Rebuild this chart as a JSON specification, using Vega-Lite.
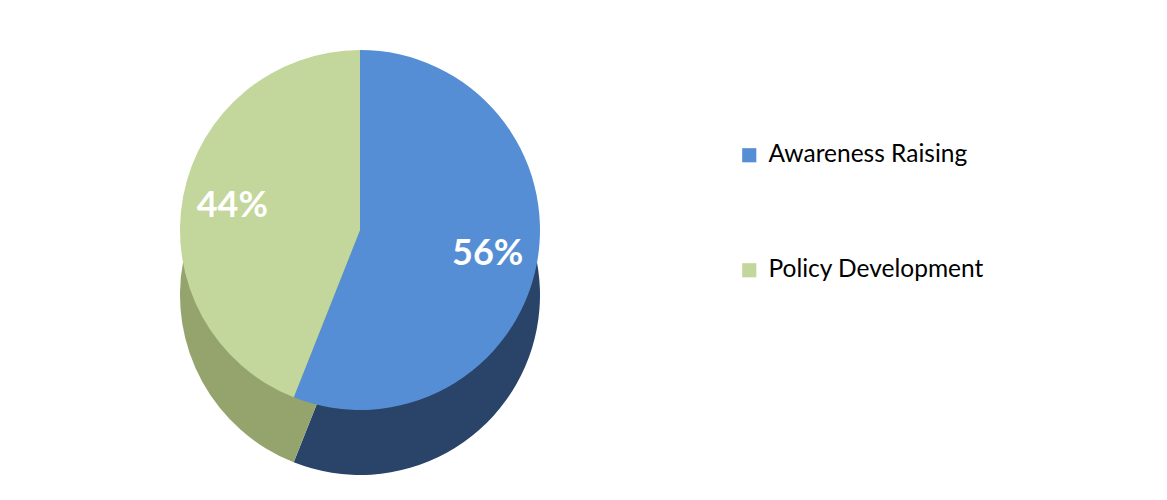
{
  "$schema": "https://vega.github.io/schema/vega-lite/v6.json",
  "width": 720,
  "height": 500,
  "padding": 0,
  "background": "white",
  "config": {"view": {"stroke": null}, "font": "Lato"},
  "data": {"values": [
    {"category": "Awareness Raising", "value": 56, "label": "56%"},
    {"category": "Policy Development", "value": 44, "label": "44%"}
  ]},
  "encoding": {
    "theta": {"field": "value", "type": "quantitative", "stack": true},
    "order": {"field": "value", "type": "quantitative", "sort": "descending"}
  },
  "layer": [
    {
      "mark": {"type": "arc", "outerRadius": 180, "yOffset": 45},
      "encoding": {
        "color": {"field": "category", "type": "nominal", "legend": null,
          "scale": {"domain": ["Awareness Raising", "Policy Development"], "range": ["#2A4368", "#94A46C"]}}
      }
    },
    {
      "mark": {"type": "arc", "outerRadius": 180, "yOffset": -20},
      "encoding": {
        "color": {"field": "category", "type": "nominal",
          "scale": {"domain": ["Awareness Raising", "Policy Development"], "range": ["#558ED5", "#C3D69B"]},
          "legend": {"title": null, "orient": "none", "legendX": 737, "legendY": 143,
            "symbolType": "square", "symbolSize": 200, "symbolStrokeWidth": 0,
            "labelFontSize": 24.5, "labelFont": "Lato", "labelColor": "black",
            "rowPadding": 90, "labelOffset": 7, "labelLimit": 400}}
      }
    },
    {
      "mark": {"type": "text", "radius": 130, "yOffset": -20, "fontSize": 36, "fontWeight": "bold", "color": "white", "font": "Lato"},
      "encoding": {"text": {"field": "label"}}
    }
  ],
  "resolve": {"scale": {"color": "independent"}, "legend": {"color": "independent"}}
}
